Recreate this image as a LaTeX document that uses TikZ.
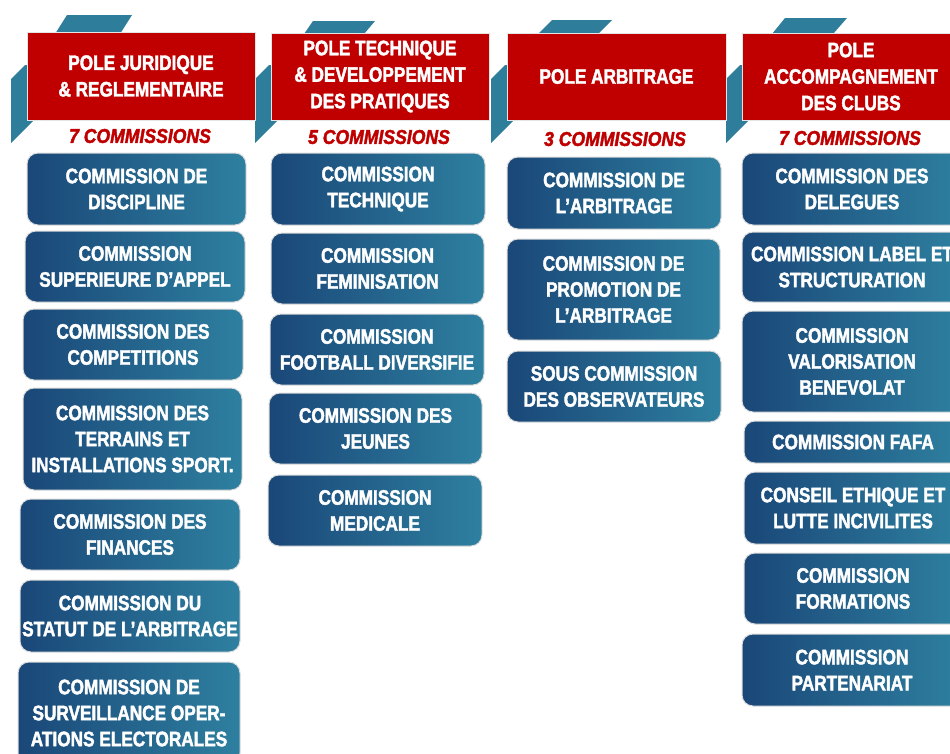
\documentclass[tikz,border=0pt]{standalone}
\usepackage{fontspec}
\setmainfont{Liberation Sans}
\newfontfamily\condf[FakeStretch=0.82, BoldFeatures={FakeBold=2}]{Liberation Sans}
\newfontfamily\countf[FakeStretch=0.88, BoldItalicFeatures={FakeBold=2}, BoldFeatures={FakeBold=2}]{Liberation Sans}
\definecolor{polered}{HTML}{C00000}
\definecolor{bleft}{HTML}{1A4778}
\definecolor{bright}{HTML}{2E80A0}
\definecolor{decoteal}{HTML}{2E7D9B}
\tikzset{
  cbox/.style={rounded corners=11pt, left color=bleft, right color=bright,
    draw=black!14, line width=1pt, text=white, align=center, inner sep=0pt,
    font=\condf\bfseries\fontsize{21}{26}\selectfont},
  polebox/.style={fill=polered, draw=black!10, line width=1pt, text=white,
    align=center, inner sep=0pt, font=\condf\bfseries\fontsize{21}{26.5}\selectfont},
  counttext/.style={text=polered, inner sep=0pt,
    font=\countf\bfseries\itshape\fontsize{20}{24}\selectfont},
  deco/.style={fill=decoteal, draw=none}
}
\begin{document}
\begin{tikzpicture}[x=1pt,y=-1pt]
\useasboundingbox (0,0) rectangle (950,753);
% decorations behind the pole boxes
\fill[deco] (67,15) -- (132,15) -- (120,34) -- (55,34) -- cycle;
\fill[deco] (313,21) -- (375,21) -- (364,34) -- (304,34) -- cycle;
\fill[deco] (552,20) -- (612,20) -- (598,34) -- (538,34) -- cycle;
\fill[deco] (785,18) -- (847,18) -- (833,34) -- (772,34) -- cycle;
\foreach \L in {27,271,507,742}{
  \fill[deco] (\L-16,79) -- (\L-2,65) -- (\L+6,65) -- (\L+6,121) -- (\L-16,143) -- cycle;
}
% pole boxes
\node[polebox, minimum width=228pt, minimum height=88pt] (p1) at (141,76) {POLE JURIDIQUE\\\& REGLEMENTAIRE};
\node[polebox, minimum width=218pt, minimum height=87pt] (p2) at (380,76.5) {POLE TECHNIQUE\\\& DEVELOPPEMENT\\DES PRATIQUES};
\node[polebox, minimum width=219pt, minimum height=87pt] (p3) at (616.5,76.5) {POLE ARBITRAGE};
\node[polebox, minimum width=218pt, minimum height=87pt] (p4) at (851,76.5) {POLE\\ACCOMPAGNEMENT\\DES CLUBS};
% counts
\node[counttext] (n1) at (140,136) {7 COMMISSIONS};
\node[counttext] (n2) at (379,137) {5 COMMISSIONS};
\node[counttext] (n3) at (615,139) {3 COMMISSIONS};
\node[counttext] (n4) at (850,138) {7 COMMISSIONS};
% column 1
\node[cbox, minimum width=219pt, minimum height=72pt] (a1) at (136.5,189) {COMMISSION DE\\DISCIPLINE};
\node[cbox, minimum width=220pt, minimum height=71pt] (a2) at (135,266.5) {COMMISSION\\SUPERIEURE D’APPEL};
\node[cbox, minimum width=220pt, minimum height=71pt] (a3) at (133,344.5) {COMMISSION DES\\COMPETITIONS};
\node[cbox, minimum width=219pt, minimum height=102pt] (a4) at (132.5,439) {COMMISSION DES\\TERRAINS ET\\INSTALLATIONS SPORT.};
\node[cbox, minimum width=220pt, minimum height=71pt] (a5) at (130,534.5) {COMMISSION DES\\FINANCES};
\node[cbox, minimum width=220pt, minimum height=72pt] (a6) at (130,616) {COMMISSION DU\\STATUT DE L’ARBITRAGE};
\node[cbox, minimum width=222pt, minimum height=102pt] (a7) at (129,713) {COMMISSION DE\\SURVEILLANCE OPER-\\ATIONS ELECTORALES};
% column 2
\node[cbox, minimum width=214pt, minimum height=72pt] (b1) at (378,189) {COMMISSION\\TECHNIQUE};
\node[cbox, minimum width=213pt, minimum height=71pt] (b2) at (377.5,268.5) {COMMISSION\\FEMINISATION};
\node[cbox, minimum width=214pt, minimum height=71pt] (b3) at (377,349.5) {COMMISSION\\FOOTBALL DIVERSIFIE};
\node[cbox, minimum width=213pt, minimum height=71pt] (b4) at (375.5,428.5) {COMMISSION DES\\JEUNES};
\node[cbox, minimum width=214pt, minimum height=71pt] (b5) at (375,510.5) {COMMISSION\\MEDICALE};
% column 3
\node[cbox, minimum width=214pt, minimum height=72pt] (c1) at (614,193) {COMMISSION DE\\L’ARBITRAGE};
\node[cbox, minimum width=213pt, minimum height=101pt] (c2) at (613.5,289.5) {COMMISSION DE\\PROMOTION DE\\L’ARBITRAGE};
\node[cbox, minimum width=214pt, minimum height=71pt] (c3) at (614,386.5) {SOUS COMMISSION\\DES OBSERVATEURS};
% column 4
\node[cbox, minimum width=220pt, minimum height=72pt] (d1) at (852,189) {COMMISSION DES\\DELEGUES};
\node[cbox, minimum width=220pt, minimum height=70pt] (d2) at (852,267) {COMMISSION LABEL ET\\STRUCTURATION};
\node[cbox, minimum width=220pt, minimum height=101pt] (d3) at (852,361.5) {COMMISSION\\VALORISATION\\BENEVOLAT};
\node[cbox, minimum width=218pt, minimum height=42pt] (d4) at (853,442) {COMMISSION FAFA};
\node[cbox, minimum width=218pt, minimum height=72pt] (d5) at (853,508) {CONSEIL ETHIQUE ET\\LUTTE INCIVILITES};
\node[cbox, minimum width=218pt, minimum height=71pt] (d6) at (853,588.5) {COMMISSION\\FORMATIONS};
\node[cbox, minimum width=220pt, minimum height=72pt] (d7) at (852,670) {COMMISSION\\PARTENARIAT};
\end{tikzpicture}
\end{document}
